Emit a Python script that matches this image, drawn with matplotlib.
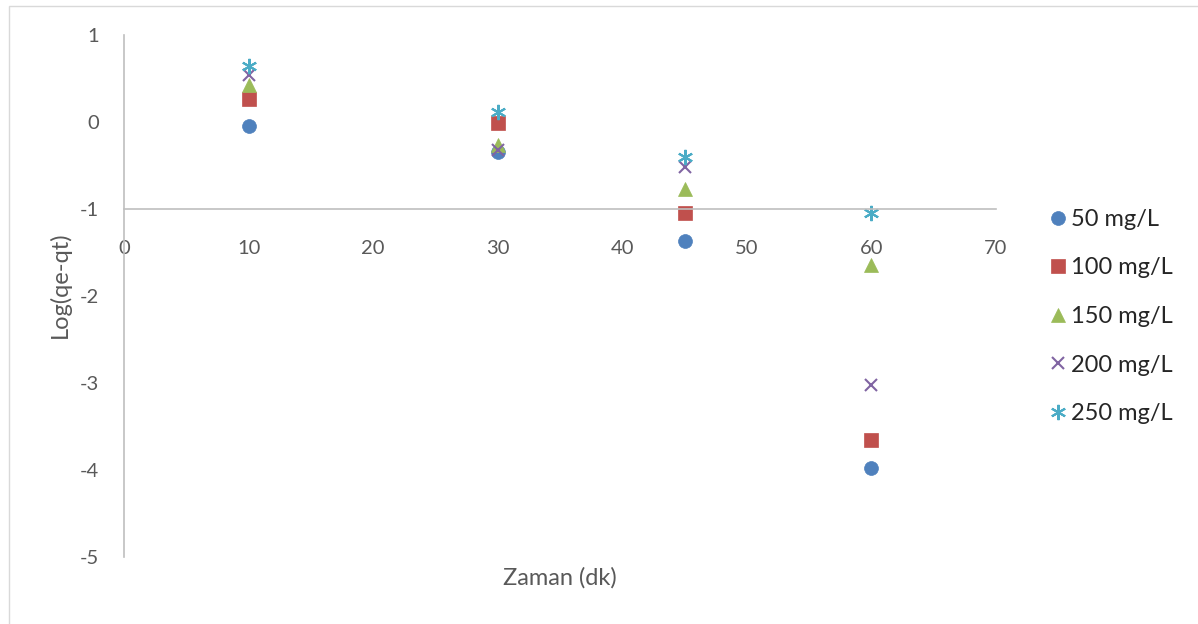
import matplotlib.pyplot as plt

plt.rcParams['font.family'] = ['Lato', 'DejaVu Sans']
plt.rcParams['axes.unicode_minus'] = False

zaman = [10, 30, 45, 60]
labels = ['50 mg/L', '100 mg/L', '150 mg/L', '200 mg/L', '250 mg/L']
y50 = [-0.05, -0.34, -1.37, -3.98]
y100 = [0.26, -0.01, -1.05, -3.65]
y150 = [0.43, -0.26, -0.77, -1.64]
y200 = [0.54, -0.32, -0.52, -3.02]
y250 = [0.64, 0.11, -0.40, -1.05]

colors = ['#4F81BD', '#C0504D', '#9BBB59', '#8064A2', '#4BACC6']
markers = ['o', 's', '^', 'x', (6, 2, 0)]
sizes = [10, 9.5, 10, 9, 11]

fig = plt.figure(figsize=(11.98, 6.24), dpi=100)
ax = fig.add_axes([124 / 1198, 1 - 557 / 624, 872 / 1198, 522 / 624])

# outer chart frame
fig.patches.append(plt.Rectangle((9 / 1198, -0.01), 1.0, 1 - 6 / 624 + 0.01,
                                 transform=fig.transFigure, fill=False,
                                 edgecolor='#D9D9D9', linewidth=1))

for ys, lab, c, m, s in zip([y50, y100, y150, y200, y250], labels, colors, markers, sizes):
    ax.plot(zaman, ys, linestyle='none', marker=m, color=c, markersize=s,
            markeredgewidth=1.5 if m in ('x',) or isinstance(m, tuple) else 0.5,
            label=lab)

ax.set_xlim(0, 70)
ax.set_ylim(-5, 1)
ax.set_xticks(range(0, 71, 10))
ax.set_yticks(range(-5, 2))

for side in ['top', 'right']:
    ax.spines[side].set_visible(False)
ax.spines['left'].set_color('#BFBFBF')
ax.spines['bottom'].set_color('#BFBFBF')
ax.spines['left'].set_position(('data', 0))
ax.spines['bottom'].set_position(('data', -1))
ax.spines['left'].set_linewidth(1.2)
ax.spines['bottom'].set_linewidth(1.2)

ax.tick_params(axis='both', length=0, labelsize=14.5, labelcolor='#595959')
ax.tick_params(axis='x', pad=22)
ax.tick_params(axis='y', pad=18)

fig.text(560 / 1198, 1 - 578 / 624, 'Zaman (dk)', fontsize=17, color='#595959',
         ha='center', va='center')
fig.text(60 / 1198, 1 - 285 / 624, 'Log(qe-qt)', fontsize=17, color='#595959',
         ha='center', va='center', rotation=90)

fig.legend(loc='upper left', bbox_to_anchor=(1037 / 1198, 1 - 197 / 624),
           frameon=False, fontsize=17, handlelength=0.8, handletextpad=0.15,
           labelspacing=1.17, borderpad=0, labelcolor='#262626')

plt.savefig('out.png', dpi=100)
